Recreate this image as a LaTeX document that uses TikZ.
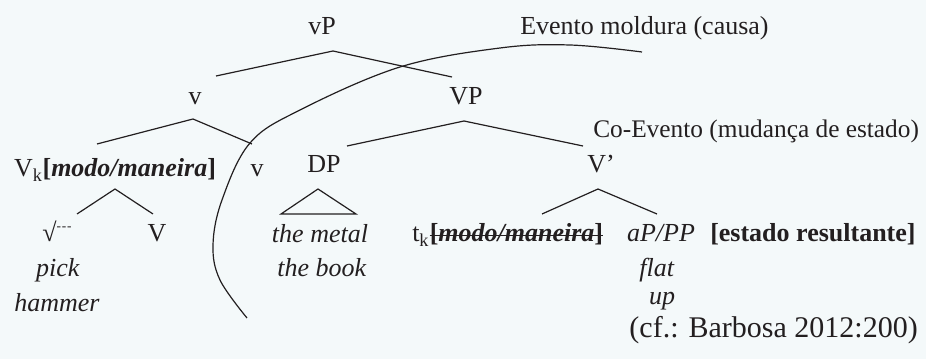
\documentclass[tikz,border=0pt]{standalone}
\usepackage{fontspec}
\setmainfont{Liberation Serif}
\definecolor{bg}{HTML}{F4F9FA}
\definecolor{ink}{HTML}{231F20}
\begin{document}
\begin{tikzpicture}[x=0.75pt,y=-0.75pt,
  lbl/.style={inner sep=0pt, anchor=base, text=ink, font=\fontsize{19.5}{22}\selectfont},
  branch/.style={draw=ink, line width=0.9pt, line join=miter},
  frame/.style={draw=ink, line width=0.9pt},
]
\fill[bg] (0,0) rectangle (926,359);
\useasboundingbox (0,0) rectangle (926,359);

% --- labels -------------------------------------------------------
\node[lbl] (vP) at (322,35) {vP};
\node[lbl, anchor=base west] (ev1) at (520,35) {Evento moldura (causa)};
\node[lbl] (v1) at (195,105) {v};
\node[lbl] (VP) at (466,105) {VP};
\node[lbl, anchor=base west, font=\fontsize{19}{22}\selectfont] (ev2) at (593,138) {Co-Evento (mudança de estado)};
\node[lbl] (Vk) at (115,177) {V\textsubscript{k}\textbf{[\textit{modo/maneira}]}};
\node[lbl] (v2) at (257,177) {v};
\node[lbl] (DP) at (324,173) {DP};
\node[lbl, anchor=base west] (Vbar) at (587,173) {V’};
\node[lbl, anchor=base west] (root) at (42,242) {√\raisebox{1.0ex}{\fontsize{10}{10}\selectfont -\kern0.6pt-\kern0.6pt-}};
\node[lbl] (V) at (157,242) {V};
\node[lbl] (obj1) at (320,243) {\textit{the metal}};
\node[lbl] (obj2) at (322,277) {\textit{the book}};
\node[lbl, anchor=base west] (tk) at (412,242) {t\textsubscript{k}};
\node[lbl, anchor=base west] (tkm) at (tk.base east) {\textbf{[\textit{modo/maneira}]}};
\node[lbl] (aP) at (661,242) {\textit{aP/PP}};
\node[lbl, anchor=base west] (res) at (710,242) {\textbf{[estado resultante]}};
\node[lbl] (pick) at (58,277) {\textit{pick}};
\node[lbl] (ham) at (57,312) {\textit{hammer}};
\node[lbl] (flat) at (657,277) {\textit{flat}};
\node[lbl] (up) at (662,305) {\textit{up}};
\node[lbl, anchor=base east, font=\fontsize{22.5}{26}\selectfont] (cf) at (918,338) {(cf.: Barbosa 2012:200)};

% strike-through of the copied feature
\draw[branch] ([yshift=4.8pt]tkm.base west) -- ([yshift=4.8pt]tkm.base east);

% --- branch points ---------------------------------------------------
\coordinate (vP-t) at (333,51);  \coordinate (vP-l) at (216,76);  \coordinate (vP-r) at (452,77);
\coordinate (v1-t) at (193,119); \coordinate (v1-l) at (97,144);  \coordinate (v1-r) at (252,144);
\coordinate (VP-t) at (464,121); \coordinate (VP-l) at (347,146); \coordinate (VP-r) at (583,146);
\coordinate (Vk-t) at (115,189); \coordinate (Vk-l) at (77,214);  \coordinate (Vk-r) at (153,214);
\coordinate (DP-t) at (318,189); \coordinate (DP-l) at (281,214); \coordinate (DP-r) at (356,214);
\coordinate (Vb-t) at (598,189); \coordinate (Vb-l) at (542,214); \coordinate (Vb-r) at (657,214);

\draw[branch] (vP-l) -- (vP-t) -- (vP-r);
\draw[branch] (v1-l) -- (v1-t) -- (v1-r);
\draw[branch] (VP-l) -- (VP-t) -- (VP-r);
\draw[branch] (Vk-l) -- (Vk-t) -- (Vk-r);
\draw[branch] (DP-l) -- (DP-t) -- (DP-r) -- cycle;
\draw[branch] (Vb-l) -- (Vb-t) -- (Vb-r);

% --- event boundary --------------------------------------------------
\draw[frame] plot[smooth, tension=0.6] coordinates {
  (247,318) (220,280) (213,245) (222,200) (250,143) (300,110)
  (400,67) (500,48) (570,45) (642,52)};
\end{tikzpicture}
\end{document}
